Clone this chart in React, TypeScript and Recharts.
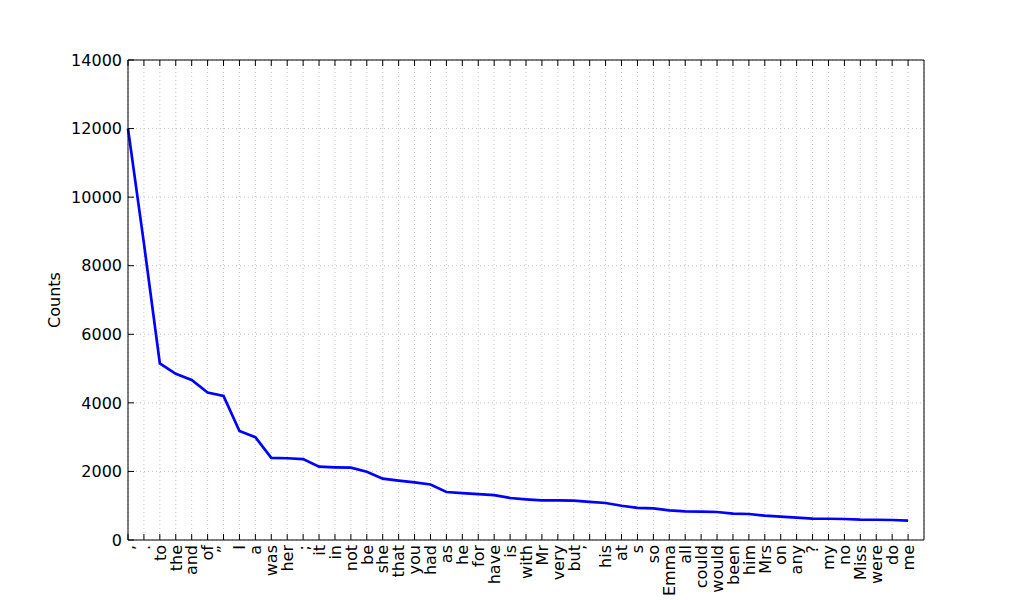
import React from 'react';
import { LineChart, Line, XAxis, YAxis, CartesianGrid } from 'recharts';

// top 50 tokens, in rank order
const WORDS = [
  ',', '.', 'to', 'the', 'and', 'of', '”', 'I', 'a', 'was',
  'her', ';', 'it', 'in', 'not', 'be', 'she', 'that', 'you', 'had',
  'as', 'he', 'for', 'have', 'is', 'with', 'Mr', 'very', 'but', '’',
  'his', 'at', 's', 'so', 'Emma', 'all', 'could', 'would', 'been', 'him',
  'Mrs', 'on', 'any', '?', 'my', 'no', 'Miss', 'were', 'do', 'me',
];

const COUNTS = [
  12000, 8650, 5150, 4845, 4670, 4300, 4200, 3180, 3000, 2395,
  2385, 2360, 2140, 2120, 2110, 1990, 1790, 1730, 1680, 1620,
  1400, 1370, 1340, 1310, 1225, 1186, 1157, 1155, 1147, 1110,
  1079, 1000, 935, 920, 866, 836, 826, 817, 768, 758,
  710, 680, 651, 622, 620, 612, 593, 591, 583, 564,
];

const Y_TICKS = [0, 2000, 4000, 6000, 8000, 10000, 12000, 14000];
const X_TICKS = WORDS.map((_, i) => i);

const data = WORDS.map((w, i) => ({ idx: i, word: w, count: COUNTS[i] }));

const FONT = '"DejaVu Sans", sans-serif';
const FS = 16;
const TICK_LEN = 6;

const LeftTick = (props: any) => {
  const { x, y, payload } = props;
  return (
    <g>
      <line x1={x} y1={y} x2={x + TICK_LEN} y2={y} stroke="#000" />
      <text x={x - 6} y={y} dy="0.36em" textAnchor="end" fontFamily={FONT} fontSize={FS} fill="#000">
        {payload.value}
      </text>
    </g>
  );
};

const RightTick = (props: any) => {
  const { x, y } = props;
  return <line x1={x - TICK_LEN} y1={y} x2={x} y2={y} stroke="#000" />;
};

const BottomTick = (props: any) => {
  const { x, y, payload } = props;
  return (
    <g>
      <line x1={x} y1={y} x2={x} y2={y - TICK_LEN} stroke="#000" />
      <g transform={`translate(${x},${y})`}>
        <text transform="rotate(-90)" x={-5} y={0} dy="0.36em" textAnchor="end" fontFamily={FONT} fontSize={FS} fill="#000">
          {WORDS[payload.value]}
        </text>
      </g>
    </g>
  );
};

const TopTick = (props: any) => {
  const { x, y } = props;
  return <line x1={x} y1={y} x2={x} y2={y + TICK_LEN} stroke="#000" />;
};

const CountsLabel = (props: any) => {
  const { viewBox } = props;
  const cy = viewBox.y + viewBox.height / 2;
  return (
    <text transform={`translate(54,${cy}) rotate(-90)`} dy="0.36em" textAnchor="middle" fontFamily={FONT} fontSize={FS} fill="#000">
      Counts
    </text>
  );
};

export default function App() {
  return (
    <div style={{ position: 'absolute', left: 0, top: 0, width: 1026, height: 600, background: '#fff' }}>
      <LineChart width={1026} height={600} data={data} margin={{ top: 0, right: 0, bottom: 0, left: 0 }}>
        <CartesianGrid stroke="#c4c4c4" strokeDasharray="1 3" xAxisId="b" yAxisId="l" />
        <XAxis
          xAxisId="b"
          dataKey="idx"
          type="number"
          domain={[0, 50]}
          ticks={X_TICKS}
          interval={0}
          height={60}
          orientation="bottom"
          axisLine={{ stroke: '#000' }}
          tickLine={false}
          tickSize={0}
          tickMargin={0}
          tick={<BottomTick />}
        />
        <XAxis
          xAxisId="t"
          dataKey="idx"
          type="number"
          domain={[0, 50]}
          ticks={X_TICKS}
          interval={0}
          height={60}
          orientation="top"
          axisLine={{ stroke: '#000' }}
          tickLine={false}
          tickSize={0}
          tickMargin={0}
          tick={<TopTick />}
        />
        <YAxis
          yAxisId="l"
          domain={[0, 14000]}
          ticks={Y_TICKS}
          interval={0}
          width={128}
          axisLine={{ stroke: '#000' }}
          tickLine={false}
          tickSize={0}
          tickMargin={0}
          tick={<LeftTick />}
          label={<CountsLabel />}
        />
        <YAxis
          yAxisId="r"
          orientation="right"
          domain={[0, 14000]}
          ticks={Y_TICKS}
          interval={0}
          width={102}
          axisLine={{ stroke: '#000' }}
          tickLine={false}
          tickSize={0}
          tickMargin={0}
          tick={<RightTick />}
        />
        <Line
          xAxisId="b"
          yAxisId="l"
          type="linear"
          dataKey="count"
          stroke="#0000ff"
          strokeWidth={2.7}
          dot={false}
          activeDot={false}
          isAnimationActive={false}
        />
      </LineChart>
    </div>
  );
}
